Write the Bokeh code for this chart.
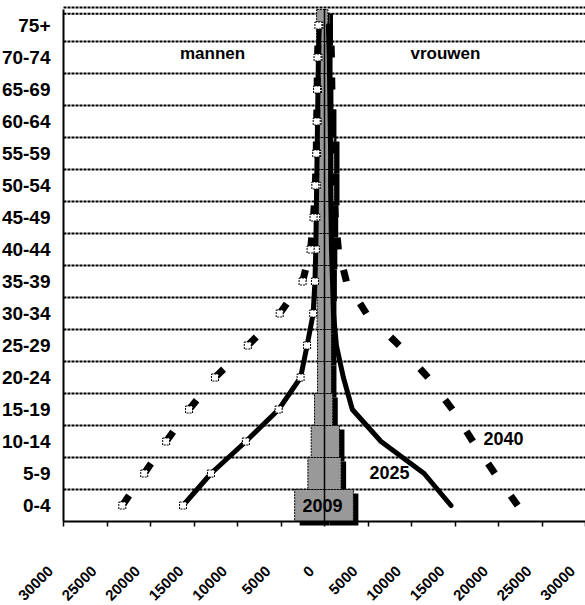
import math
import numpy as np
from bokeh.plotting import figure
from bokeh.models import ColumnDataSource, FixedTicker, Label, LinearAxis
from bokeh.transform import dodge
from bokeh.embed import file_html
from bokeh.resources import INLINE

# ---------------- data ----------------
age_groups = ["0-4", "5-9", "10-14", "15-19", "20-24", "25-29", "30-34", "35-39",
              "40-44", "45-49", "50-54", "55-59", "60-64", "65-69", "70-74", "75+"]

men_2009 = [3430, 1910, 1530, 1150, 800, 800, 850, 900, 900, 900, 950, 1000, 950, 900, 900, 900]
women_2009 = [3320, 1910, 1720, 950, 800, 800, 800, 850, 900, 1000, 1150, 1150, 800, 450, 350, 400]

men_2025 = [16260, 13050, 9040, 5270, 2750, 2000, 1300, 1100, 1000, 950, 900, 850, 800, 750, 700, 600]
women_2025 = [14540, 11450, 6500, 3200, 2170, 1370, 1030, 920, 800, 750, 700, 700, 650, 600, 550, 450]

men_2040 = [23240, 20720, 18200, 15570, 12590, 8820, 5150, 2520, 1600, 1260, 1050, 950, 900, 850, 800, 700]
women_2040 = [22210, 19580, 17060, 14700, 11900, 8590, 4810, 2520, 1600, 1250, 1100, 1000, 900, 850, 800, 700]

x_ticks = [-30000, -25000, -20000, -15000, -10000, -5000, 0, 5000, 10000, 15000, 20000, 25000, 30000]
x_tick_labels = ["30000", "25000", "20000", "15000", "10000", "5000", "0",
                 "5000", "10000", "15000", "20000", "25000", "30000"]

FONT = "Liberation Sans"

n = len(age_groups)
yc = np.arange(n) + 0.5
grid_y = list(range(1, n)) + [15.87, 16.06]

X0, X1 = x_ticks[0], x_ticks[-1]
PX = (X1 - X0) / 522.0          # data units per pixel horizontally

bars = ColumnDataSource(dict(
    y=np.concatenate([yc, yc]),
    left=np.concatenate([-np.array(men_2009, float), np.zeros(n)]),
    right=np.concatenate([np.zeros(n), np.array(women_2009, float)]),
))

# frame covers the whole canvas; axes are placed inside it at fixed locations
p = figure(width=585, height=605, x_range=(X0 - 63 * PX, X1), y_range=(-2.625, 16.28125),
           output_backend="svg", toolbar_location=None,
           min_border_left=0, min_border_right=0, min_border_top=0, min_border_bottom=0)
p.outline_line_color = None
p.background_fill_color = "white"
p.border_fill_color = "white"
p.xgrid.visible = False
p.ygrid.visible = False

# dashed horizontal grid lines between age groups
p.segment(x0=X0, x1=X1, y0=grid_y, y1=grid_y, line_color="black",
          line_width=2, line_dash="3 1")

# shadows of bars
p.hbar(y=dodge("y", -0.125), left=dodge("left", 5 * PX), right=dodge("right", 5 * PX),
       height=1.0, source=bars, fill_color="black", line_color=None)
# 2009 bars
p.hbar(y="y", left="left", right="right", height=1.0, source=bars,
       fill_color="#999999", line_color="black", line_width=1, line_dash="2 1")

# centre line
p.segment(x0=0, y0=0, x1=0, y1=n, line_color="black", line_width=1.5)

# 2025 lines
m25 = -np.array(men_2025, float)
w25 = np.array(women_2025, float)
p.line(x=m25, y=yc, line_color="black", line_width=5, line_join="round")
p.line(x=w25, y=yc, line_color="black", line_width=5, line_join="round", line_cap="round")
p.scatter(x=m25, y=yc, marker="square", size=7, fill_color="white",
          line_color="black", line_width=1, line_dash="2 1")

# 2040 lines (long-gap dashes)
m40 = -np.array(men_2040, float)
w40 = np.array(women_2040, float)
for vals in (m40, w40):
    p.segment(x0=vals[:-1], y0=yc[:-1], x1=vals[1:], y1=yc[1:],
              line_color="black", line_width=7, line_dash="12 400", line_cap="butt")
p.scatter(x=m40, y=yc, marker="square", size=7, fill_color="white",
          line_color="black", line_width=1, line_dash="2 1")

# y axis at x = -30000
ya = p.yaxis[0]
ya.fixed_location = X0
ya.bounds = (0, n)
ya.ticker = FixedTicker(ticks=list(yc))
ya.major_label_overrides = {float(v): lab for v, lab in zip(yc, age_groups)}
ya.major_tick_line_color = None
ya.major_tick_out = 0
ya.major_tick_in = 0
ya.minor_tick_line_color = None
ya.axis_line_width = 2
ya.major_label_standoff = 13
ya.major_label_text_font = FONT
ya.major_label_text_font_style = "bold"
ya.major_label_text_font_size = "19px"
ya.major_label_text_color = "black"

# x axis at y = 0 (line + ticks)
xa = p.xaxis[0]
xa.fixed_location = 0
xa.bounds = (X0, X1)
xa.ticker = FixedTicker(ticks=x_ticks)
xa.major_tick_out = 5
xa.major_tick_in = 0
xa.major_tick_line_width = 1.5
xa.minor_tick_line_color = None
xa.axis_line_width = 2
xa.major_label_text_color = None

# rotated tick labels (second axis, labels only, anchored slightly left of each tick)
shift = int(round(13 * PX))
lab_ticks = [t - shift for t in x_ticks]
la = LinearAxis(fixed_location=0, bounds=(X0 - 63 * PX, X1),
                ticker=FixedTicker(ticks=lab_ticks),
                major_label_overrides={t: s for t, s in zip(lab_ticks, x_tick_labels)},
                axis_line_color=None, major_tick_line_color=None,
                minor_tick_line_color=None, major_tick_out=0, major_tick_in=0,
                major_label_orientation=math.pi / 4, major_label_standoff=47,
                major_label_text_font=FONT, major_label_text_font_style="bold",
                major_label_text_font_size="15px", major_label_text_color="black")
p.add_layout(la, "below")

def lab(x, y, t, size):
    p.add_layout(Label(x=x, y=y, text=t, text_align="center", text_baseline="middle",
                       text_font=FONT, text_font_style="bold",
                       text_font_size=size, text_color="black"))

lab(-12870, 14.63, "mannen", "17px")
lab(13900, 14.63, "vrouwen", "17px")
lab(-230, 0.5, "2009", "18px")
lab(7470, 1.53, "2025", "18px")
lab(20570, 2.6, "2040", "18px")

open("out.html", "w").write(file_html(p, INLINE))
